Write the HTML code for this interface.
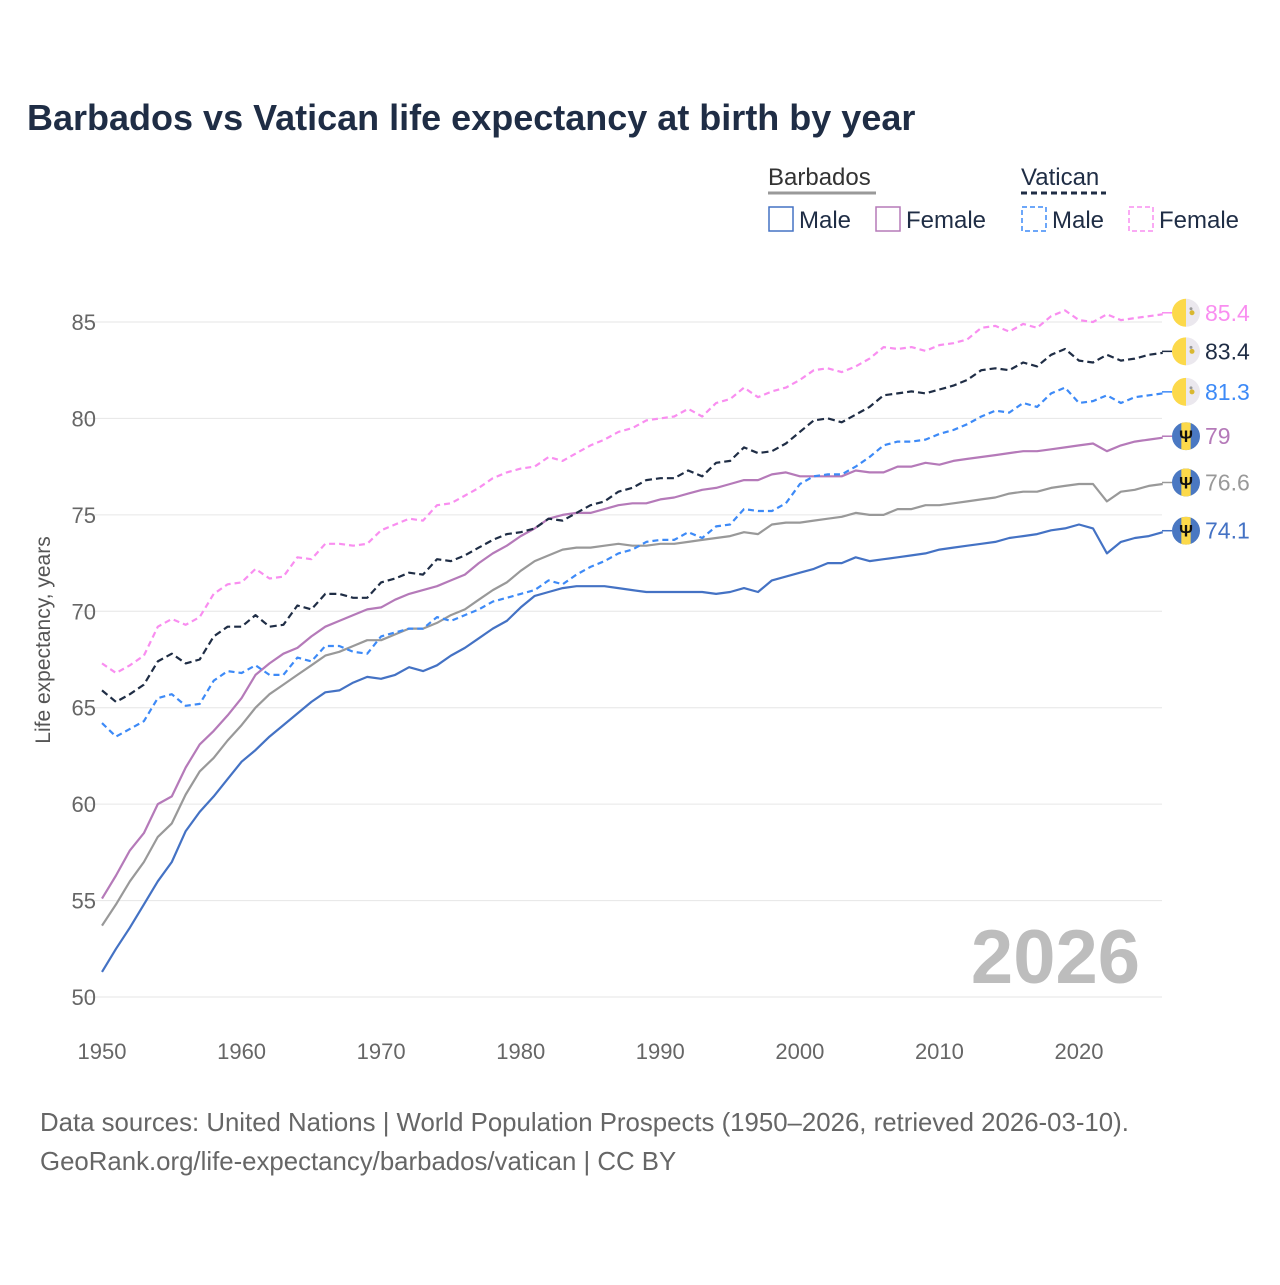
<!DOCTYPE html>
<html><head><meta charset="utf-8"><style>
body{margin:0;background:#fff;width:1280px;height:1280px;overflow:hidden;font-family:"Liberation Sans",sans-serif}
</style></head><body>
<svg id="chart" width="1280" height="1280" xmlns="http://www.w3.org/2000/svg" font-family="Liberation Sans, sans-serif">
<text x="27" y="130" font-size="36" font-weight="bold" fill="#1f2d45">Barbados vs Vatican life expectancy at birth by year</text>
<g font-size="24">
<text x="768" y="185" fill="#333">Barbados</text>
<line x1="768" y1="193" x2="876" y2="193" stroke="#999" stroke-width="3"/>
<text x="1021" y="185" fill="#1f2d45">Vatican</text>
<line x1="1021" y1="193" x2="1106" y2="193" stroke="#1f2d45" stroke-width="3" stroke-dasharray="6,4"/>
<g><rect x="769" y="207" width="24" height="24" fill="none" stroke="#4472c4" stroke-width="1.5"/><text x="799" y="228" fill="#1f2d45">Male</text></g>
<g><rect x="876" y="207" width="24" height="24" fill="none" stroke="#b57ab9" stroke-width="1.5"/><text x="906" y="228" fill="#1f2d45">Female</text></g>
<g><rect x="1022" y="207" width="24" height="24" fill="none" stroke="#3d8af7" stroke-width="1.5" stroke-dasharray="5,3"/><text x="1052" y="228" fill="#1f2d45">Male</text></g>
<g><rect x="1129" y="207" width="24" height="24" fill="none" stroke="#f98ef0" stroke-width="1.5" stroke-dasharray="5,3"/><text x="1159" y="228" fill="#1f2d45">Female</text></g>
</g>
<g id="grid"></g><g id="axes"></g>
<text x="1140" y="983" text-anchor="end" font-size="76" font-weight="bold" fill="#bdbdbd">2026</text>
<g id="lines"></g><g id="ends"></g>
<text transform="translate(50,640) rotate(-90)" text-anchor="middle" font-size="21" fill="#555">Life expectancy, years</text>
<text x="40" y="1131" font-size="25.8" fill="#666">Data sources: United Nations | World Population Prospects (1950–2026, retrieved 2026-03-10).</text>
<text x="40" y="1170" font-size="25.8" fill="#666">GeoRank.org/life-expectancy/barbados/vatican | CC BY</text>
</svg>
<script>
const yTicks=[50,55,60,65,70,75,80,85];
const xTicks=[1950,1960,1970,1980,1990,2000,2010,2020];
const startYear=1950;
const barbadosMale=[51.3,52.5,53.6,54.8,56.0,57.0,58.6,59.6,60.4,61.3,62.2,62.8,63.5,64.1,64.7,65.3,65.8,65.9,66.3,66.6,66.5,66.7,67.1,66.9,67.2,67.7,68.1,68.6,69.1,69.5,70.2,70.8,71.0,71.2,71.3,71.3,71.3,71.2,71.1,71.0,71.0,71.0,71.0,71.0,70.9,71.0,71.2,71.0,71.6,71.8,72.0,72.2,72.5,72.5,72.8,72.6,72.7,72.8,72.9,73.0,73.2,73.3,73.4,73.5,73.6,73.8,73.9,74.0,74.2,74.3,74.5,74.3,73.0,73.6,73.8,73.9,74.1];
const barbadosFemale=[55.1,56.3,57.6,58.5,60.0,60.4,61.9,63.1,63.8,64.6,65.5,66.7,67.3,67.8,68.1,68.7,69.2,69.5,69.8,70.1,70.2,70.6,70.9,71.1,71.3,71.6,71.9,72.5,73.0,73.4,73.9,74.3,74.8,75.0,75.1,75.1,75.3,75.5,75.6,75.6,75.8,75.9,76.1,76.3,76.4,76.6,76.8,76.8,77.1,77.2,77.0,77.0,77.0,77.0,77.3,77.2,77.2,77.5,77.5,77.7,77.6,77.8,77.9,78.0,78.1,78.2,78.3,78.3,78.4,78.5,78.6,78.7,78.3,78.6,78.8,78.9,79.0];
const barbadosTotal=[53.7,54.8,56.0,57.0,58.3,59.0,60.5,61.7,62.4,63.3,64.1,65.0,65.7,66.2,66.7,67.2,67.7,67.9,68.2,68.5,68.5,68.8,69.1,69.1,69.4,69.8,70.1,70.6,71.1,71.5,72.1,72.6,72.9,73.2,73.3,73.3,73.4,73.5,73.4,73.4,73.5,73.5,73.6,73.7,73.8,73.9,74.1,74.0,74.5,74.6,74.6,74.7,74.8,74.9,75.1,75.0,75.0,75.3,75.3,75.5,75.5,75.6,75.7,75.8,75.9,76.1,76.2,76.2,76.4,76.5,76.6,76.6,75.7,76.2,76.3,76.5,76.6];
const vaticanTotal=[65.9,65.3,65.7,66.2,67.4,67.8,67.3,67.5,68.7,69.2,69.2,69.8,69.2,69.3,70.3,70.1,70.9,70.9,70.7,70.7,71.5,71.7,72.0,71.9,72.7,72.6,72.9,73.3,73.7,74.0,74.1,74.3,74.8,74.7,75.1,75.5,75.7,76.2,76.4,76.8,76.9,76.9,77.3,77.0,77.7,77.8,78.5,78.2,78.3,78.7,79.3,79.9,80.0,79.8,80.2,80.6,81.2,81.3,81.4,81.3,81.5,81.7,82.0,82.5,82.6,82.5,82.9,82.7,83.3,83.6,83.0,82.9,83.3,83.0,83.1,83.3,83.4];
const vaticanMale=[64.2,63.5,63.9,64.3,65.5,65.7,65.1,65.2,66.4,66.9,66.8,67.2,66.7,66.7,67.6,67.4,68.2,68.2,67.9,67.8,68.7,68.9,69.1,69.1,69.7,69.5,69.8,70.1,70.5,70.7,70.9,71.1,71.6,71.4,71.9,72.3,72.6,73.0,73.2,73.6,73.7,73.7,74.1,73.8,74.4,74.5,75.3,75.2,75.2,75.6,76.6,77.0,77.1,77.1,77.5,78.0,78.6,78.8,78.8,78.9,79.2,79.4,79.7,80.1,80.4,80.3,80.8,80.6,81.3,81.6,80.8,80.9,81.2,80.8,81.1,81.2,81.3];
const vaticanFemale=[67.3,66.8,67.2,67.7,69.2,69.6,69.3,69.7,70.9,71.4,71.5,72.2,71.7,71.8,72.8,72.7,73.5,73.5,73.4,73.5,74.2,74.5,74.8,74.7,75.5,75.6,76.0,76.4,76.9,77.2,77.4,77.5,78.0,77.8,78.2,78.6,78.9,79.3,79.5,79.9,80.0,80.1,80.5,80.1,80.8,81.0,81.6,81.1,81.4,81.6,82.0,82.5,82.6,82.4,82.7,83.1,83.7,83.6,83.7,83.5,83.8,83.9,84.1,84.7,84.8,84.5,84.9,84.7,85.3,85.6,85.1,85.0,85.4,85.1,85.2,85.3,85.4];
const endLabels=["85.4","83.4","81.3","79","76.6","74.1"];

const NS="http://www.w3.org/2000/svg";
const X=yr=>102+(yr-1950)*(977/70);
const Y=v=>997-(v-50)*(675/35);
function mk(t,a,p){const e=document.createElementNS(NS,t);for(const k in a)e.setAttribute(k,a[k]);p.appendChild(e);return e;}
const grid=document.getElementById('grid'),axes=document.getElementById('axes');
yTicks.forEach(v=>{
 const l=mk('line',{x1:80,x2:1162,y1:Y(v),y2:Y(v),stroke:'#e6e6e6','stroke-width':1},grid);
 
 
 const t=mk('text',{x:96,y:Y(v)+8,'text-anchor':'end','font-size':22,fill:'#666'},axes);
 t.textContent=v;
 
 
});
xTicks.forEach(v=>{
 const t=mk('text',{x:X(v),y:1059,'text-anchor':'middle','font-size':22,fill:'#666'},axes);
 t.textContent=v;
 
 
});
const series=[
 {d:vaticanFemale,c:'#f98ef0',dash:'6,4',n:'vatican-female',f:'va'},
 {d:vaticanTotal,c:'#1f2d45',dash:'7,4',n:'vatican-total',f:'va'},
 {d:vaticanMale,c:'#3d8af7',dash:'6,4',n:'vatican-male',f:'va'},
 {d:barbadosFemale,c:'#b57ab9',dash:'',n:'barbados-female',f:'bb'},
 {d:barbadosTotal,c:'#999',dash:'',n:'barbados-total',f:'bb'},
 {d:barbadosMale,c:'#4472c4',dash:'',n:'barbados-male',f:'bb'}
];
const lines=document.getElementById('lines'),ends=document.getElementById('ends');
series.slice().reverse().forEach(s=>{
 const pts=s.d.map((v,i)=>X(startYear+i).toFixed(1)+','+Y(v).toFixed(1)).join(' ');
 const p=mk('polyline',{points:pts,fill:'none',stroke:s.c,'stroke-width':2.2,'stroke-linejoin':'round'},lines);
 if(s.dash)p.setAttribute('stroke-dasharray',s.dash);
 
 
});
series.forEach((s,i)=>{
 const last=s.d[s.d.length-1];
 const cy=Y(last)-1.5,cx=1186,r=14;
 const g=mk('g',{},ends);
 
 
 mk('line',{x1:1162,x2:cx-r,y1:cy,y2:cy,stroke:s.c,'stroke-width':1.5},g);
 if(s.f==='va'){
  mk('path',{d:`M${cx},${cy-r} A${r},${r} 0 0 0 ${cx},${cy+r} Z`,fill:'#fcd94a'},g);
  mk('path',{d:`M${cx},${cy-r} A${r},${r} 0 0 1 ${cx},${cy+r} Z`,fill:'#ebe8ee'},g);
  mk('circle',{cx:cx+6,cy:cy,r:2.5,fill:'#d9b830'},g);
  mk('circle',{cx:cx+5,cy:cy-4,r:1.5,fill:'#999'},g);
 }else{
  const cp='cp'+i;
  const d=mk('clipPath',{id:cp},g);mk('circle',{cx:cx,cy:cy,r:r},d);
  mk('rect',{x:cx-r,y:cy-r,width:2*r,height:2*r,fill:'#4a78c2','clip-path':`url(#${cp})`},g);
  mk('rect',{x:cx-r/3,y:cy-r,width:2*r/3,height:2*r,fill:'#fcd94a','clip-path':`url(#${cp})`},g);
  const t=mk('text',{x:cx,y:cy+6,'text-anchor':'middle','font-size':17,'font-weight':'bold',fill:'#111'},g);
  t.textContent='Ψ';
 }
 const t=mk('text',{x:1205,y:cy+8,'font-size':23,fill:s.c},ends);
 t.textContent=endLabels[i];
 
 
});
</script>
</body></html>
